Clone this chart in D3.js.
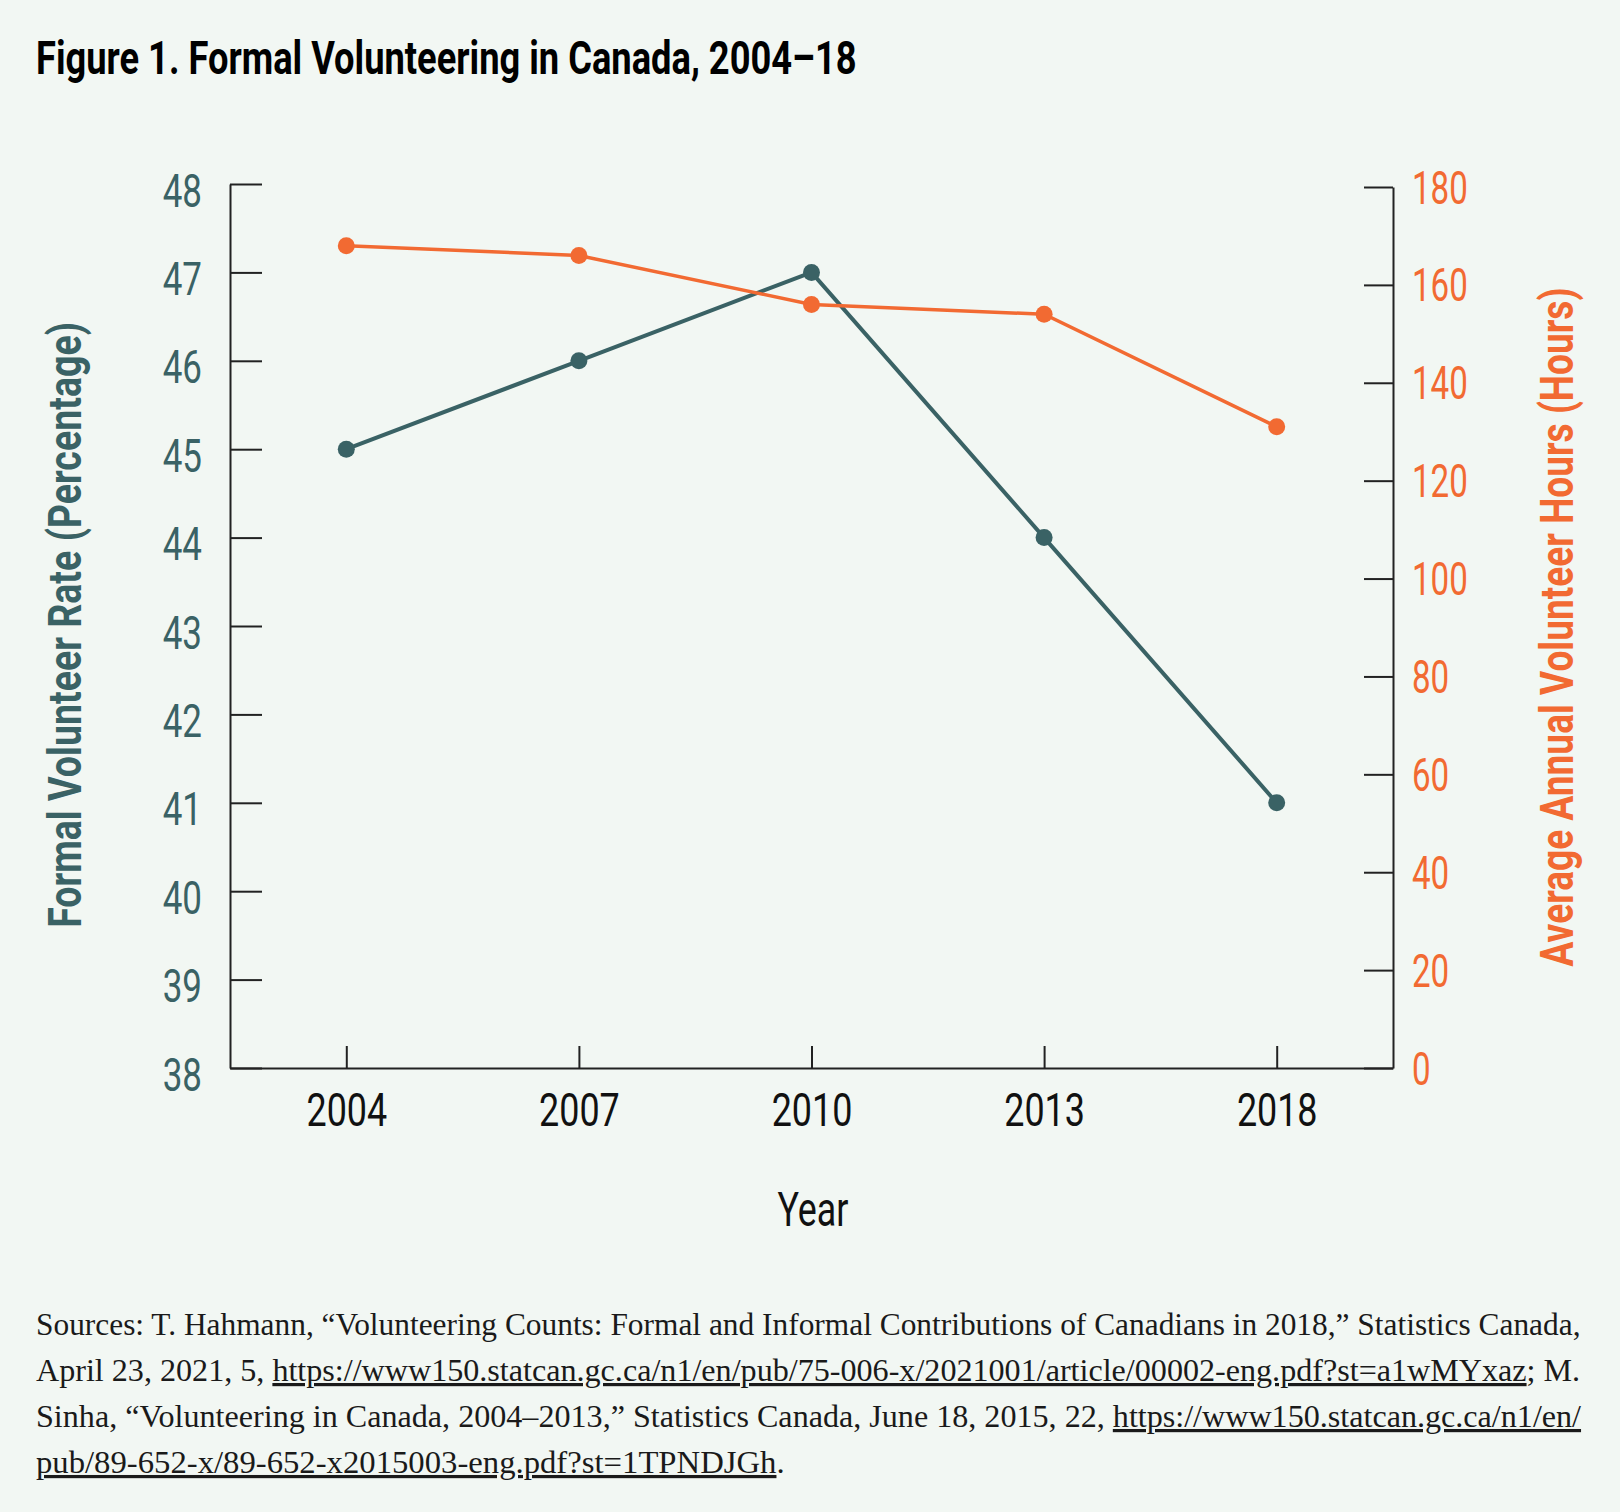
<!DOCTYPE html>
<html>
<head>
<meta charset="utf-8">
<script src="https://cdn.jsdelivr.net/npm/d3@7"></script>
<style>
  body { margin: 0; background: #f2f7f3; }
  text { font-family: Roboto, "DejaVu Sans", sans-serif; }
  .note { font-family: "Liberation Serif", "DejaVu Serif", serif; }
</style>
</head>
<body>
<script>
// data
var years = ["2004", "2007", "2010", "2013", "2018"];
var rate = [45, 46, 47, 44, 41];          // formal volunteer rate, %
var hours = [168, 166, 156, 154, 131];    // average annual volunteer hours
var rateTicks = [38, 39, 40, 41, 42, 43, 44, 45, 46, 47, 48];
var hourTicks = [0, 20, 40, 60, 80, 100, 120, 140, 160, 180];

var teal = "#3a6265";
var orange = "#f26a32";
var axisColour = "#222";

var W = 1620, H = 1512;

var svg = d3.select("body").append("svg")
    .attr("width", W)
    .attr("height", H);

svg.append("rect")
    .attr("width", W)
    .attr("height", H)
    .attr("fill", "#f2f7f3");

// squeeze text horizontally around its own anchor (condensed look)
function squeeze(sel, sx) {
  sel.each(function() {
    var t = d3.select(this);
    var x = +t.attr("x") || 0, y = +t.attr("y") || 0;
    var prev = t.attr("transform") || "";
    t.attr("transform", prev + " translate(" + x + "," + y + ") scale(" + sx + ",1) translate(" + (-x) + "," + (-y) + ")");
  });
}
function fitWidth(sel, w) {
  squeeze(sel, w / sel.node().getComputedTextLength());
}

var left = 230, right = 1393, bottom = 1068;

var x = d3.scalePoint().domain(years).range([left, right]).padding(0.5);
var yRate = d3.scaleLinear().domain([38, 48]).range([bottom, 184]);
var yHours = d3.scaleLinear().domain([0, 180]).range([bottom, 187]);

// x axis
var gx = svg.append("g")
    .attr("transform", "translate(0," + bottom + ")")
    .call(d3.axisBottom(x).tickSize(-22).tickSizeOuter(0));
gx.selectAll("text")
    .attr("y", 58).attr("dy", null)
    .attr("fill", "#111")
    .style("font-size", "46px");
squeeze(gx.selectAll("text"), 0.78);

// left axis
var gl = svg.append("g")
    .attr("transform", "translate(" + left + ",0)")
    .call(d3.axisLeft(yRate).tickValues(rateTicks).tickSize(-32).tickSizeOuter(0));
gl.selectAll("text")
    .attr("x", -28).attr("y", 22).attr("dy", null)
    .attr("fill", teal)
    .style("font-size", "46px");
squeeze(gl.selectAll("text"), 0.76);

// right axis
var gr = svg.append("g")
    .attr("transform", "translate(" + right + ",0)")
    .call(d3.axisRight(yHours).tickValues(hourTicks).tickSize(-29).tickSizeOuter(0));
gr.selectAll("text")
    .attr("x", 19).attr("y", 16).attr("dy", null)
    .attr("fill", orange)
    .style("font-size", "46px");
squeeze(gr.selectAll("text"), 0.72);

svg.selectAll(".domain, .tick line")
    .attr("stroke", axisColour)
    .attr("stroke-width", 2);

// lines
var rateLine = d3.line()
    .x(function(d, i) { return x(years[i]); })
    .y(function(d) { return yRate(d); });
var hourLine = d3.line()
    .x(function(d, i) { return x(years[i]); })
    .y(function(d) { return yHours(d); });

svg.append("path")
    .datum(rate)
    .attr("d", rateLine)
    .attr("fill", "none")
    .attr("stroke", teal)
    .attr("stroke-width", 4);

svg.append("path")
    .datum(hours)
    .attr("d", hourLine)
    .attr("fill", "none")
    .attr("stroke", orange)
    .attr("stroke-width", 3.5);

svg.selectAll(".dot-rate")
    .data(rate)
    .enter().append("circle")
    .attr("cx", function(d, i) { return x(years[i]); })
    .attr("cy", function(d) { return yRate(d); })
    .attr("r", 8.5)
    .attr("fill", teal);

svg.selectAll(".dot-hours")
    .data(hours)
    .enter().append("circle")
    .attr("cx", function(d, i) { return x(years[i]); })
    .attr("cy", function(d) { return yHours(d); })
    .attr("r", 8.5)
    .attr("fill", orange);

// title
var title = svg.append("text")
    .attr("x", 36).attr("y", 74)
    .attr("fill", "#000")
    .style("font-size", "47px")
    .style("font-weight", "700")
    .text("Figure 1. Formal Volunteering in Canada, 2004–18");
fitWidth(title, 821);

// axis titles
var yl = svg.append("text")
    .attr("transform", "translate(81,625) rotate(-90)")
    .attr("text-anchor", "middle")
    .attr("fill", teal)
    .style("font-size", "47px")
    .style("font-weight", "700")
    .text("Formal Volunteer Rate (Percentage)");
fitWidth(yl, 606);

var yr = svg.append("text")
    .attr("transform", "translate(1573,627) rotate(-90)")
    .attr("text-anchor", "middle")
    .attr("fill", orange)
    .style("font-size", "47px")
    .style("font-weight", "700")
    .text("Average Annual Volunteer Hours (Hours)");
fitWidth(yr, 679);

var xt = svg.append("text")
    .attr("x", 813).attr("y", 1226)
    .attr("text-anchor", "middle")
    .attr("fill", "#111")
    .style("font-size", "48px")
    .text("Year");
fitWidth(xt, 71);

// sources note
var noteLines = [
  [["Sources: T. Hahmann, “Volunteering Counts: Formal and Informal Contributions of Canadians in 2018,” Statistics Canada,", false]],
  [["April 23, 2021, 5, ", false], ["https://www150.statcan.gc.ca/n1/en/pub/75-006-x/2021001/article/00002-eng.pdf?st=a1wMYxaz", true], ["; M.", false]],
  [["Sinha, “Volunteering in Canada, 2004–2013,” Statistics Canada, June 18, 2015, 22, ", false], ["https://www150.statcan.gc.ca/n1/en/", true]],
  [["pub/89-652-x/89-652-x2015003-eng.pdf?st=1TPNDJGh", true], [".", false]]
];
var noteWidths = [1545, 1545, 1546, 749];

noteLines.forEach(function(parts, i) {
  var t = svg.append("text")
      .attr("class", "note")
      .attr("x", 36).attr("y", 1335 + i * 46)
      .attr("fill", "#1a1a1a")
      .style("font-size", "32px");
  parts.forEach(function(p) {
    t.append("tspan")
        .style("text-decoration", p[1] ? "underline" : "none")
        .text(p[0]);
  });
  fitWidth(t, noteWidths[i]);
});
</script>
</body>
</html>
